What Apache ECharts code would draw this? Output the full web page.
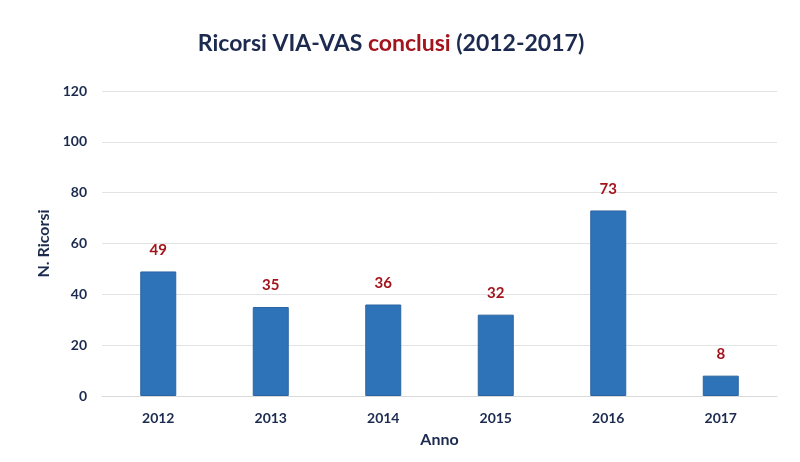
<!DOCTYPE html>
<html><head><meta charset="utf-8">
<script src="https://cdn.jsdelivr.net/npm/echarts@6/dist/echarts.min.js"></script>
<style>html,body{margin:0;padding:0;background:#fff}#c{width:800px;height:462px}</style>
</head><body><div id="c"></div>
<script>
const categories = ['2012','2013','2014','2015','2016','2017'];
const values = [49, 35, 36, 32, 73, 8];
const yTicks = [0, 20, 40, 60, 80, 100, 120];

const navy = '#1b2a4e';
const red = '#a3141c';
const font = 'Lato';
const chart = echarts.init(document.getElementById('c'));
chart.setOption({
  backgroundColor: '#fff',
  animation: false,
  title: {
    text: '{a|Ricorsi VIA-VAS }{b|conclusi}{a| (2012-2017)}',
    left: 386, top: 27, textAlign: 'center',
    textStyle: {
      rich: {
        a: {fontFamily: font, fontWeight: 'bold', fontSize: 23, color: navy},
        b: {fontFamily: font, fontWeight: 'bold', fontSize: 23, color: red}
      }
    }
  },
  grid: {left: 102, right: 23, top: 91, bottom: 66},
  xAxis: {
    type: 'category', data: categories,
    name: 'Anno', nameLocation: 'middle', nameGap: 36,
    nameTextStyle: {fontFamily: font, fontWeight: 'bold', fontSize: 16, color: navy},
    axisLine: {show: true, lineStyle: {color: '#d9d9d9'}},
    axisTick: {show: false},
    axisLabel: {fontFamily: font, fontWeight: 'bold', fontSize: 14, color: navy, margin: 15}
  },
  yAxis: {
    type: 'value', min: yTicks[0], max: yTicks[yTicks.length-1], interval: 20,
    name: 'N. Ricorsi', nameLocation: 'middle', nameGap: 50, nameRotate: 90,
    nameTextStyle: {fontFamily: font, fontWeight: 'bold', fontSize: 16, color: navy},
    axisLine: {show: false}, axisTick: {show: false},
    splitLine: {lineStyle: {color: '#e3e3e3'}},
    axisLabel: {fontFamily: font, fontWeight: 'bold', fontSize: 14, color: navy, margin: 15}
  },
  series: [{
    type: 'bar', data: values, barWidth: 36,
    itemStyle: {color: '#2e73b8', borderColor: '#2a64a0', borderWidth: 1},
    label: {show: true, position: 'top', distance: 14, fontFamily: font, fontWeight: 'bold', fontSize: 15, color: red}
  }]
});
</script></body></html>
